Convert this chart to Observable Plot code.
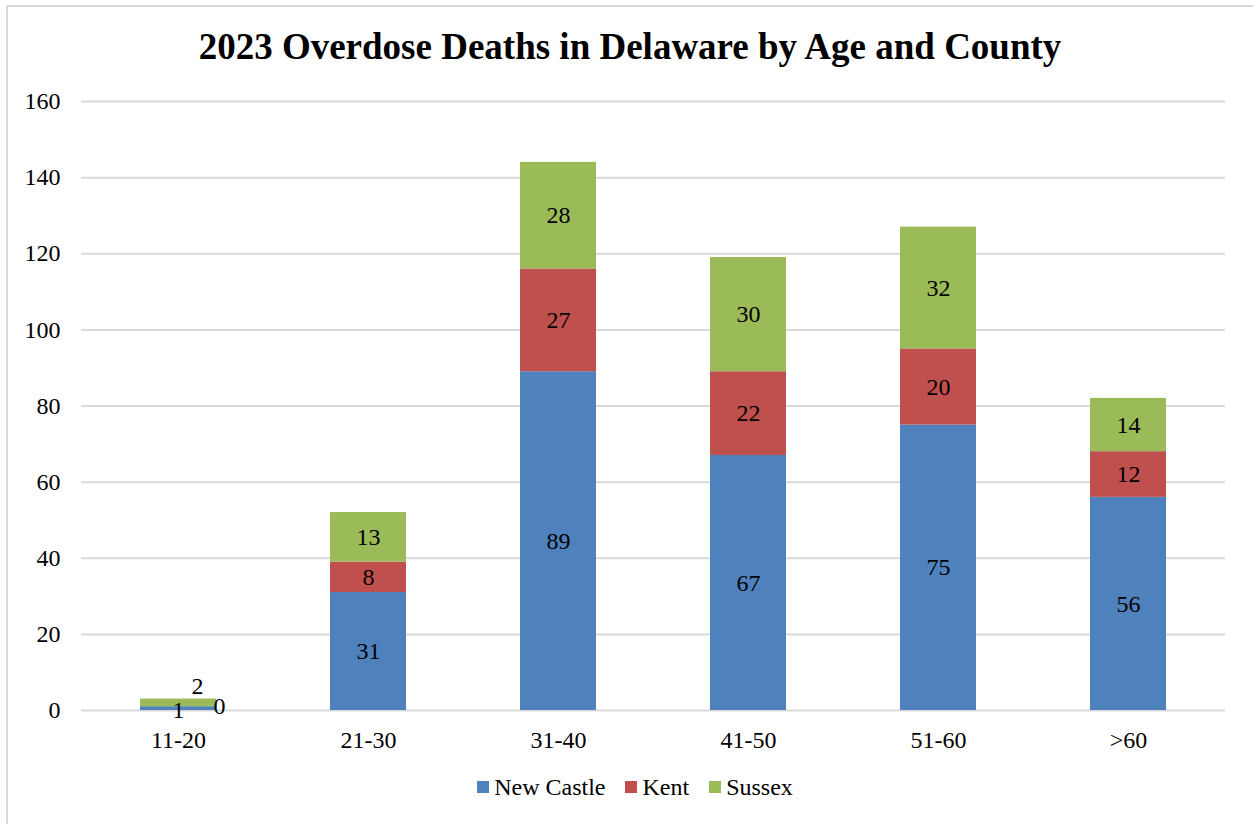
<!DOCTYPE html>
<html>
<head>
<meta charset="utf-8">
<script src="https://cdn.jsdelivr.net/npm/d3@7"></script>
<script src="https://cdn.jsdelivr.net/npm/@observablehq/plot@0.6"></script>
<style>
  html, body { margin: 0; padding: 0; background: #fff; overflow: hidden; width: 1253px; height: 824px; }
  #frame { position: absolute; left: 6px; top: 5px; width: 1260px; height: 830px; border-left: 2px solid #d9d9d9; border-top: 2px solid #d9d9d9; box-sizing: border-box; }
  #title { position: absolute; left: 0; top: 25px; width: 1260px; text-align: center; font-family: "Liberation Serif", "Times New Roman", serif; font-weight: bold; font-size: 37px; color: #000; }
  #chart { position: absolute; left: 0; top: 80px; }
  #legend { position: absolute; left: 0; top: 774px; width: 1270px; text-align: center; font-family: "Liberation Serif", "Times New Roman", serif; font-size: 24px; color: #000; }
  #legend span.item { display: inline-block; margin: 0 10px; }
  #legend span.sw { display: inline-block; width: 12px; height: 12px; margin-right: 5px; vertical-align: 2px; }
</style>
</head>
<body>
<div id="frame"></div>
<div id="title">2023 Overdose Deaths in Delaware by Age and County</div>
<div id="chart"></div>
<div id="legend"></div>
<script>
const ageGroups = ["11-20", "21-30", "31-40", "41-50", "51-60", ">60"];
const counties = ["New Castle", "Kent", "Sussex"];
const newCastle = [1, 31, 89, 67, 75, 56];
const kent = [0, 8, 27, 22, 20, 12];
const sussex = [2, 13, 28, 30, 32, 14];
const colors = ["#4f81bd", "#c0504d", "#9bbb59"];
const yTicks = [0, 20, 40, 60, 80, 100, 120, 140, 160];

const series = [newCastle, kent, sussex];
const data = [];
ageGroups.forEach((age, i) => {
  counties.forEach((c, j) => data.push({age, county: c, value: series[j][i]}));
});

const font = "'Liberation Serif', 'Times New Roman', serif";
const mainLabels = data.filter(d => d.age !== "11-20");
const small = data.filter(d => d.age === "11-20");

const chart = Plot.plot({
  width: 1253,
  height: 685,
  marginLeft: 81,
  marginRight: 28,
  marginTop: 21,
  marginBottom: 55,
  style: {fontFamily: font, fontSize: "24px", color: "#000", background: "transparent"},
  x: {domain: ageGroups, paddingInner: 0.6, paddingOuter: 0.3, label: null, tickSize: 0, tickPadding: 20},
  y: {domain: [0, 160], ticks: yTicks, label: null, tickSize: 0, tickPadding: 21, grid: false},
  color: {domain: counties, range: colors},
  marks: [
    Plot.ruleY(yTicks, {stroke: "#d9d9d9", strokeWidth: 2}),
    Plot.barY(data, {x: "age", y: "value", fill: "county", order: counties}),
    Plot.text(mainLabels, Plot.stackY({x: "age", y: "value", z: "county", order: counties, text: "value", fill: "#000", fontSize: 24})),
    Plot.text(small.filter(d => d.county === "New Castle"), {x: "age", y: "value", text: "value", fontSize: 24, dy: 4}),
    Plot.text(small.filter(d => d.county === "Kent"), {x: "age", y: 0, text: "value", fontSize: 24, dx: 41, dy: -4}),
    Plot.text(small.filter(d => d.county === "Sussex"), {x: "age", y: 0, text: "value", fontSize: 24, dx: 19, dy: -24})
  ]
});
document.getElementById("chart").appendChild(chart);

const legend = document.getElementById("legend");
counties.forEach((c, i) => {
  const item = document.createElement("span");
  item.className = "item";
  const sw = document.createElement("span");
  sw.className = "sw";
  sw.style.background = colors[i];
  item.appendChild(sw);
  item.appendChild(document.createTextNode(c));
  legend.appendChild(item);
});
</script>
</body>
</html>
